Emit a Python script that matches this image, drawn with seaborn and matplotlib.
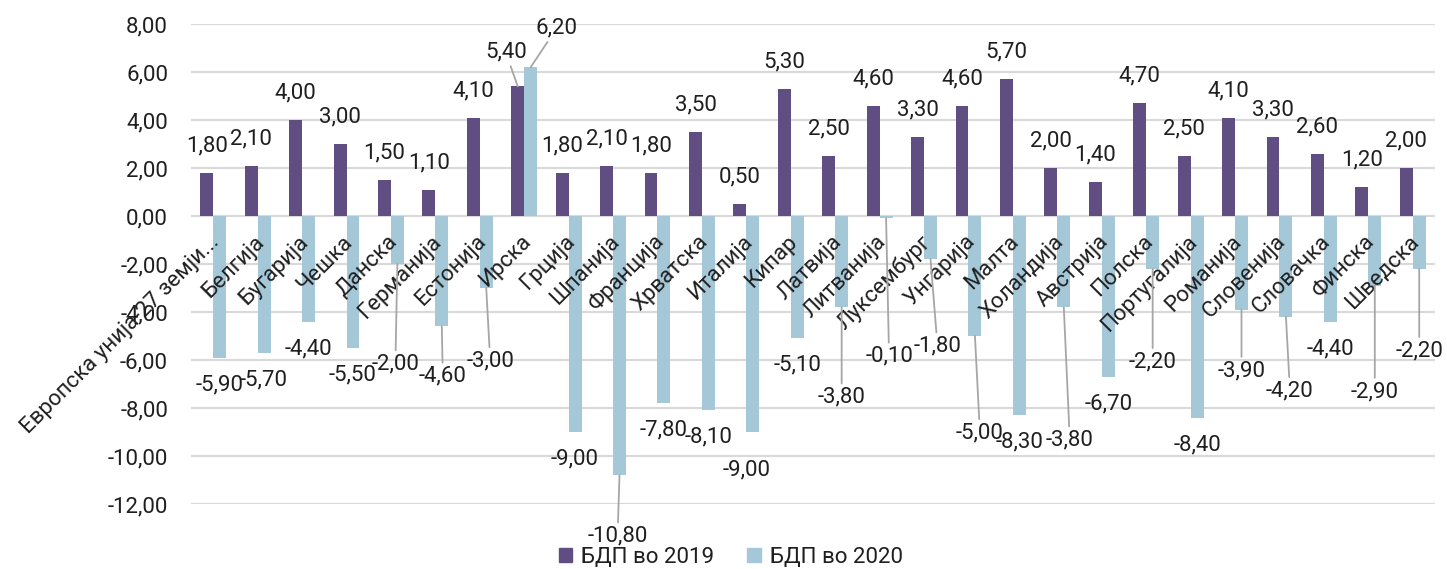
import matplotlib
matplotlib.use('Agg')
import matplotlib.pyplot as plt
from matplotlib.patches import Patch
from matplotlib.ticker import FuncFormatter
from matplotlib.transforms import ScaledTranslation
import pandas as pd
import seaborn as sns

countries = ['Европска унија-27 земји...', 'Белгија', 'Бугарија', 'Чешка', 'Данска',
             'Германија', 'Естонија', 'Ирска', 'Грција', 'Шпанија', 'Франција',
             'Хрватска', 'Италија', 'Кипар', 'Латвија', 'Литванија', 'Луксембург',
             'Унгарија', 'Малта', 'Холандија', 'Австрија', 'Полска', 'Португалија',
             'Романија', 'Словенија', 'Словачка', 'Финска', 'Шведска']
gdp_2019 = [1.8, 2.1, 4.0, 3.0, 1.5, 1.1, 4.1, 5.4, 1.8, 2.1, 1.8, 3.5, 0.5, 5.3,
            2.5, 4.6, 3.3, 4.6, 5.7, 2.0, 1.4, 4.7, 2.5, 4.1, 3.3, 2.6, 1.2, 2.0]
gdp_2020 = [-5.9, -5.7, -4.4, -5.5, -2.0, -4.6, -3.0, 6.2, -9.0, -10.8, -7.8, -8.1,
            -9.0, -5.1, -3.8, -0.1, -1.8, -5.0, -8.3, -3.8, -6.7, -2.2, -8.4, -3.9,
            -4.2, -4.4, -2.9, -2.2]
series_names = ['БДП во 2019', 'БДП во 2020']

# labels that were dragged away from their bars in the source (pixels: dx, extra dy downward)
moved_2019 = {'Ирска': (-12, -7)}
moved_2020 = {'Данска': (-2, 73), 'Германија': (1, 23), 'Естонија': (4, 46),
              'Ирска': (26, -12), 'Шпанија': (-2, 34), 'Италија': (-6, 11),
              'Латвија': (0, 63), 'Литванија': (3, 111), 'Луксембург': (7, 60),
              'Унгарија': (5, 70), 'Холандија': (6, 106), 'Полска': (0, 66),
              'Романија': (0, 34), 'Словенија': (4, 47), 'Финска': (0, 79),
              'Шведска': (0, 55)}

purple = '#604E83'
blue = '#A5C8D9'
grid_col = '#D9D9D9'
text_col = '#1F1F1F'
fs = 16

sns.set_style('white')
plt.rcParams['font.family'] = ['Roboto', 'DejaVu Sans']

df = pd.DataFrame({
    'country': countries * 2,
    'value': gdp_2019 + gdp_2020,
    'series': [series_names[0]] * len(countries) + [series_names[1]] * len(countries),
})

fig = plt.figure(figsize=(14.47, 5.69), dpi=100)
ax = fig.add_axes([0.132, 0.1142, 0.8597, 0.8436])

sns.barplot(data=df, x='country', y='value', hue='series', order=countries,
            hue_order=series_names, palette=[purple, blue], width=0.58, gap=0,
            saturation=1, linewidth=0, legend=False, ax=ax)

ax.set_ylim(-12, 8)
ax.set_xlim(-0.5, len(countries) - 0.5)
ax.set_yticks(range(-12, 9, 2))
ax.yaxis.set_major_formatter(FuncFormatter(lambda v, p: f'{v:.2f}'.replace('.', ',')))
# gridlines under the bars, tick labels above them
for yv in ax.get_yticks():
    ax.axhline(yv, color=grid_col, lw=1.5, zorder=0)
ax.set_axisbelow(False)
for s in ['top', 'right', 'left']:
    ax.spines[s].set_visible(False)
ax.spines['bottom'].set_position(('data', 0))
ax.spines['bottom'].set_visible(False)
ax.set_xlabel('')
ax.set_ylabel('')
ax.tick_params(axis='y', length=0, pad=16.5, labelsize=fs, labelcolor=text_col)
ax.tick_params(axis='x', length=0, pad=11, labelsize=fs, labelcolor=text_col)
shift = ScaledTranslation(-3 / 72, 0, fig.dpi_scale_trans)
for lab in ax.get_xticklabels():
    lab.set_rotation(45)
    lab.set_ha('right')
    lab.set_va('top')
    lab.set_rotation_mode('anchor')
    lab.set_transform(lab.get_transform() + shift)

leader = dict(arrowstyle='-', color='#A6A6A6', lw=1.3, shrinkA=0, shrinkB=0)


def fmt(v):
    return f'{v:.2f}'.replace('.', ',')


for container, moved in zip(ax.containers, [moved_2019, moved_2020]):
    for name, bar in zip(countries, container):
        v = bar.get_height()
        x = bar.get_x() + bar.get_width() / 2
        sign = 1 if v >= 0 else -1
        dx, dy = moved.get(name, (0, 0))
        off = (dx, sign * 27 - dy)
        props = leader if (abs(dy) > 15 or abs(dx) > 10) else None
        ax.annotate(fmt(v), xy=(x, v), xytext=off, textcoords='offset pixels',
                    ha='center', va='center', fontsize=fs, color=text_col,
                    arrowprops=props, annotation_clip=False, zorder=4)

handles = [Patch(color=purple), Patch(color=blue)]
fig.legend(handles, series_names, loc='center', bbox_to_anchor=(0.505, 0.021),
           ncol=2, frameon=False, fontsize=fs, handlelength=0.6, handleheight=0.6,
           handletextpad=0.4, columnspacing=1.5, labelcolor=text_col)

fig.savefig('out.png', dpi=100)
